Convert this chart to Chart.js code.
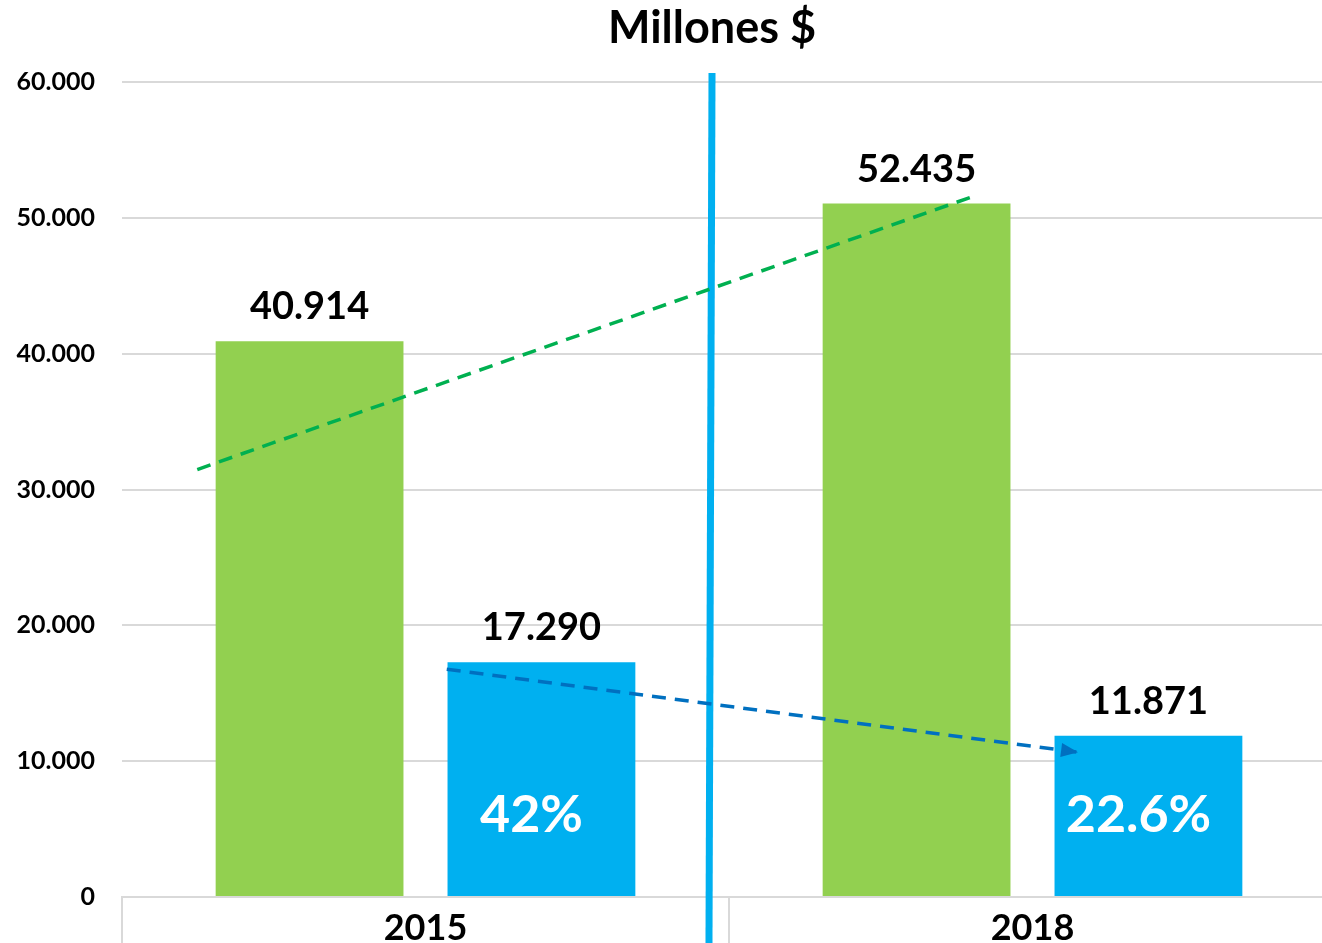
<!DOCTYPE html>
<html>
<head>
<meta charset="utf-8">
<script src="https://cdn.jsdelivr.net/npm/chart.js@4.4.0/dist/chart.umd.min.js"></script>
<style>
  html, body { margin: 0; padding: 0; background: #fff; overflow: hidden; }
  #wrap { width: 1322px; height: 943px; overflow: hidden; }
</style>
</head>
<body>
<div id="wrap"><canvas id="chart" width="1340" height="943"></canvas></div>
<script>
// data
const titleText = 'Millones $';
const years = ['2015', '2018'];
const totalValues = [40914, 51050];          // green bars (2018 bar is drawn lower than its label)
const totalLabels = ['40.914', '52.435'];
const subsetValues = [17290, 11871];         // blue bars
const subsetLabels = ['17.290', '11.871'];
const shareLabels = ['42%', '22.6%'];
const yTicks = [0, 10000, 20000, 30000, 40000, 50000, 60000];

// trend arrows and divider, in (category index, value) space
const greenTrend = [{ x: -0.376, y: 31470 }, { x: 0.905, y: 51620 }];
const blueTrend = [{ x: 0.035, y: 16765 }, { x: 1.075, y: 10660 }];
const divider = [{ x: 0.472, y: 60660 }, { x: 0.467, y: -3500 }];

const GREEN = '#92D050';
const BLUE = '#00B0F0';
const FONT = 'Lato, "Open Sans", sans-serif';

function toPx(chart, p) {
  return { x: chart.scales.x2.getPixelForValue(p.x), y: chart.scales.y.getPixelForValue(p.y) };
}

function drawSegment(ctx, chart, pts, color, width, dash) {
  const a = toPx(chart, pts[0]), b = toPx(chart, pts[1]);
  ctx.save();
  ctx.strokeStyle = color;
  ctx.lineWidth = width;
  ctx.setLineDash(dash);
  ctx.beginPath();
  ctx.moveTo(a.x, a.y);
  ctx.lineTo(b.x, b.y);
  ctx.stroke();
  ctx.restore();
  return [a, b];
}

const overlayPlugin = {
  id: 'overlay',
  afterDatasetsDraw(chart) {
    const ctx = chart.ctx;
    const y = chart.scales.y;

    // divider and trend lines
    drawSegment(ctx, chart, divider, BLUE, 7, []);
    drawSegment(ctx, chart, greenTrend, '#00B050', 3.5, [14, 9]);
    const [a, b] = drawSegment(ctx, chart, blueTrend, '#0070C0', 3.5, [14, 9]);

    ctx.save();
    // arrow head on blue trend
    const ang = Math.atan2(b.y - a.y, b.x - a.x);
    ctx.fillStyle = '#0070C0';
    ctx.beginPath();
    ctx.moveTo(b.x, b.y);
    ctx.lineTo(b.x - 17 * Math.cos(ang) + 7 * Math.sin(ang), b.y - 17 * Math.sin(ang) - 7 * Math.cos(ang));
    ctx.lineTo(b.x - 17 * Math.cos(ang) - 7 * Math.sin(ang), b.y - 17 * Math.sin(ang) + 7 * Math.cos(ang));
    ctx.closePath();
    ctx.fill();

    // value labels above bars
    ctx.textAlign = 'center';
    ctx.textBaseline = 'alphabetic';
    ctx.fillStyle = '#000';
    ctx.font = 'bold 38px ' + FONT;
    [[0, totalLabels], [1, subsetLabels]].forEach(([di, labels]) => {
      chart.getDatasetMeta(di).data.forEach((bar, i) => {
        ctx.fillText(labels[i], bar.x, bar.y - 22);
      });
    });

    // percentages inside blue bars
    ctx.fillStyle = '#fff';
    ctx.font = 'bold 52px ' + FONT;
    ctx.textBaseline = 'middle';
    chart.getDatasetMeta(1).data.forEach((bar, i) => {
      ctx.fillText(shareLabels[i], bar.x - 10, y.getPixelForValue(6000));
    });

    // title, centred over the divider rather than the canvas
    ctx.fillStyle = '#000';
    ctx.font = 'bold 45px ' + FONT;
    ctx.textBaseline = 'alphabetic';
    ctx.fillText(titleText, chart.scales.x2.getPixelForValue(divider[0].x), 43);
    ctx.restore();
  }
};

new Chart(document.getElementById('chart'), {
  type: 'bar',
  data: {
    labels: years,
    datasets: [
      { data: totalValues, backgroundColor: GREEN, categoryPercentage: 0.764, barPercentage: 0.81 },
      { data: subsetValues, backgroundColor: BLUE, categoryPercentage: 0.764, barPercentage: 0.81 }
    ]
  },
  options: {
    responsive: false,
    animation: false,
    layout: { padding: { left: 0, right: 4, top: 82, bottom: 0 } },
    plugins: {
      legend: { display: false },
      tooltip: { enabled: false },
      title: { display: false }
    },
    scales: {
      x: {
        grid: { offset: true, drawOnChartArea: false, drawTicks: true, tickLength: 50,
                color: '#d9d9d9', lineWidth: 2 },
        border: { display: true, color: '#d9d9d9', width: 2 },
        ticks: { color: '#000', font: { family: FONT, size: 36, weight: 'bold' }, padding: -40 },
        afterFit(scale) { scale.height = 46; }
      },
      x2: { type: 'linear', min: -0.5, max: 1.5, offset: false, display: false },
      y: {
        min: 0, max: 60000,
        afterBuildTicks(scale) { scale.ticks = yTicks.map(v => ({ value: v })); },
        grid: { color: '#d9d9d9', lineWidth: 2, drawTicks: false },
        border: { display: false },
        ticks: {
          color: '#000', padding: 27,
          font: { family: FONT, size: 25, weight: 'bold' },
          callback: v => v.toLocaleString('de-DE')
        },
        afterFit(scale) { scale.width = 122; }
      }
    }
  },
  plugins: [overlayPlugin]
});
</script>
</body>
</html>
